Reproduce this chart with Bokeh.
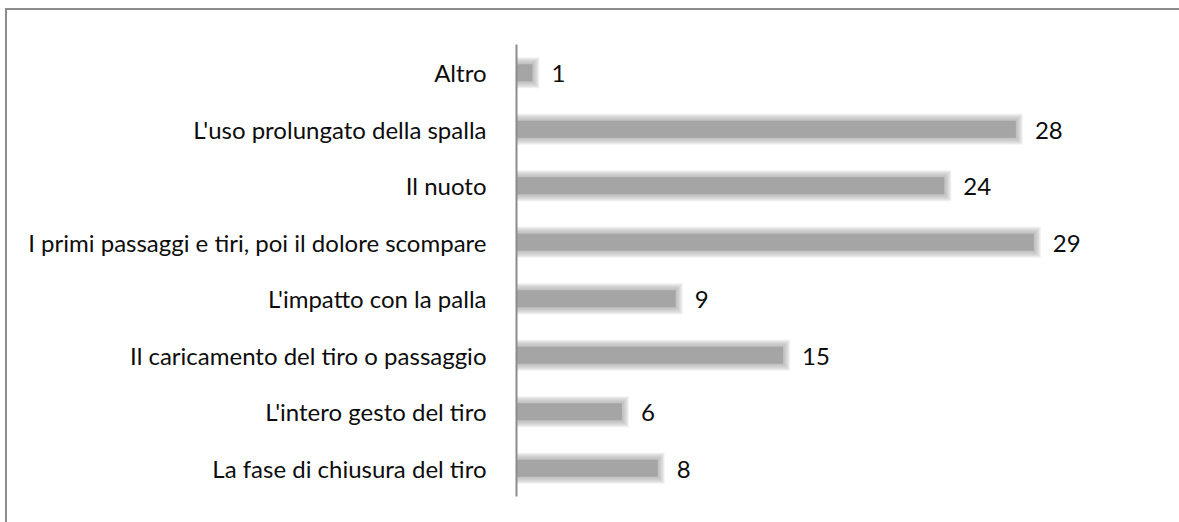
from bokeh.plotting import figure
from bokeh.models import FactorRange, Range1d, ColumnDataSource
from bokeh.core.properties import value
from bokeh.embed import file_html
from bokeh.resources import INLINE

# Survey answers, listed top to bottom as they appear on the chart
categories = [
    "Altro",
    "L'uso prolungato della spalla",
    "Il nuoto",
    "I primi passaggi e tiri, poi il dolore scompare",
    "L'impatto con la palla",
    "Il caricamento del tiro o passaggio",
    "L'intero gesto del tiro",
    "La fase di chiusura del tiro",
]
counts = [1, 28, 24, 29, 9, 15, 6, 8]
count_labels = [str(c) for c in counts]

BAR_COLOR = "#a5a5a5"
FONT = "Lato"
FONT_SIZE = "24px"

X_END = 36.3          # count units across the plot frame
FRAME_W = 650         # px
FRAME_H = 452         # px
PX_X = X_END / FRAME_W            # one pixel in count units
PX_Y = len(categories) / FRAME_H  # one pixel in category units
BAR_H = 0.37

src = ColumnDataSource(dict(cat=categories, n=counts, lab=count_labels))

p = figure(
    width=1174, height=514,
    x_range=Range1d(0, X_END),
    y_range=FactorRange(*reversed(categories)),
    output_backend="svg", toolbar_location=None,
    min_border_left=509, min_border_right=15,
    min_border_top=34, min_border_bottom=28,
)
p.margin = (8, 0, 0, 5)
p.styles = {"border-left": "2px solid #8c8c8c", "border-top": "2px solid #8c8c8c"}

# soft edge: many faint widening layers under a slightly inset solid bar
for k in range(5, -3, -1):
    layer = ColumnDataSource(dict(cat=categories,
                                  r=[c + k * PX_X for c in counts]))
    p.hbar(y="cat", left=0, right="r", height=BAR_H + 2 * k * PX_Y,
           source=layer, fill_color=BAR_COLOR, fill_alpha=0.14, line_color=None)
core = ColumnDataSource(dict(cat=categories, r=[c - 2 * PX_X for c in counts]))
p.hbar(y="cat", left=0, right="r", height=BAR_H - 4 * PX_Y, source=core,
       fill_color=BAR_COLOR, line_color=None)

p.text(x="n", y="cat", text="lab", source=src, x_offset=17, y_offset=1,
       text_baseline="middle", text_align="left",
       text_font=value(FONT), text_font_size=FONT_SIZE, text_color="#0d0d0d")

p.xaxis.visible = False
p.xgrid.visible = False
p.ygrid.visible = False
p.outline_line_color = None

ax = p.yaxis[0]
ax.axis_line_color = "#8c8c8c"
ax.axis_line_width = 2
ax.major_tick_line_color = None
ax.minor_tick_line_color = None
ax.major_label_text_font = FONT
ax.major_label_text_font_size = FONT_SIZE
ax.major_label_text_color = "#0d0d0d"
ax.major_label_standoff = 24

open("out.html", "w").write(file_html(p, INLINE))
